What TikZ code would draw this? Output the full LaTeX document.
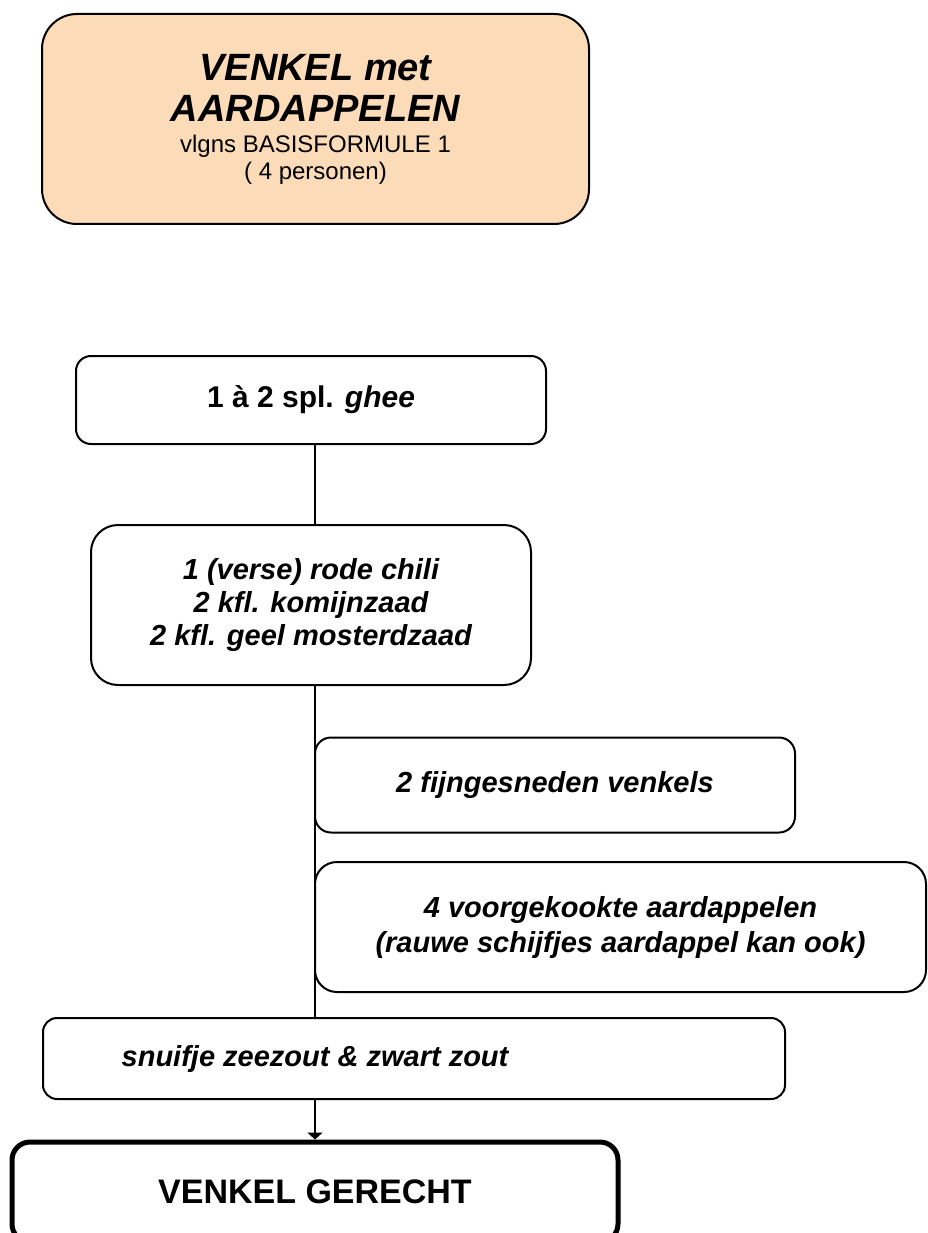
\documentclass[tikz,border=0pt]{standalone}
\usepackage{fontspec}
\setsansfont{Liberation Sans}
\usetikzlibrary{arrows.meta, positioning}
\definecolor{venkelpeach}{HTML}{FCDBB9}

\begin{document}
\begin{tikzpicture}[x=1pt, y=-1pt, font=\sffamily, line width=2pt,
    every node/.style={inner sep=0pt, align=center},
    stepbox/.style={draw, line width=2pt, fill=white},
    ingr/.style={font=\sffamily\bfseries\itshape\fontsize{29}{33}\selectfont}]
  \useasboundingbox (0,0) rectangle (928,1233);
  \clip (0,0) rectangle (928,1233);
  \def\titlefont{\fontsize{38}{42}\selectfont\bfseries\itshape}
  \coordinate (spine) at (315,0);
  % title box
  \node[stepbox, fill=venkelpeach, rounded corners=35pt,
        minimum width=547pt, minimum height=210pt,
        font=\sffamily\fontsize{24}{27}\selectfont] (title) at (315.5,119)
       {{\titlefont VENKEL met}\\[14pt]{\titlefont AARDAPPELEN}\\[4pt]
        vlgns BASISFORMULE 1\\( 4 personen)};
  % steps
  \node[stepbox, rounded corners=15pt, minimum width=470pt, minimum height=88pt,
        font=\sffamily\bfseries\fontsize{30}{34}\selectfont] (b1) at (311,400)
       {1 à 2 spl. \textit{ghee}};
  \node[stepbox, ingr, rounded corners=27pt, minimum width=440pt,
        minimum height=160pt] (b2) at (311,605)
       {1 (verse) rode chili\\2 kfl. komijnzaad\\2 kfl. geel mosterdzaad};
  \node[stepbox, ingr, rounded corners=16pt, minimum width=480pt,
        minimum height=95pt] (b3) at (555,785) {2 fijngesneden venkels};
  \node[stepbox, ingr, rounded corners=22pt, minimum width=611pt,
        minimum height=130pt, font=\sffamily\bfseries\itshape\fontsize{29}{35}\selectfont]
        (b4) at (620.5,927)
       {4 voorgekookte aardappelen\\(rauwe schijfjes aardappel kan ook)};
  \node[stepbox, rounded corners=14pt, minimum width=742pt,
        minimum height=81pt] (b5) at (414,1058.5) {};
  \node[ingr] (b5text) at (spine |- b5.center) {snuifje zeezout \& zwart zout};
  % result
  \node[draw, line width=5pt, rounded corners=18pt, minimum width=606pt,
        minimum height=100pt, font=\sffamily\bfseries\fontsize{34}{38}\selectfont]
        (dish) at (315,1192) {VENKEL GERECHT};
  % connectors
  \draw (b1.south -| spine) -- (b2.north -| spine);
  \draw (b2.south -| spine) -- (b5.north -| spine);
  \draw[-{Triangle[width=15pt,length=7pt]}] (b5.south -| spine) -- (dish.north -| spine);
\end{tikzpicture}
\end{document}
